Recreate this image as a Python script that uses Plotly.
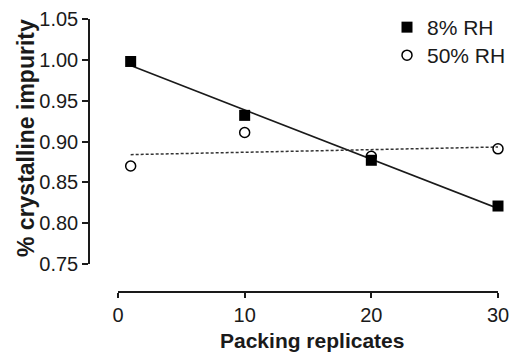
import numpy as np
import plotly.graph_objects as go

# Data
packing = [1, 10, 20, 30]
rh8 = [0.998, 0.932, 0.877, 0.821]
rh50 = [0.870, 0.911, 0.882, 0.891]
x_ticks = [0, 10, 20, 30]
y_ticks = [0.75, 0.80, 0.85, 0.90, 0.95, 1.00, 1.05]

W, H = 514, 354
FONT = "Liberation Sans, Arial, Helvetica, sans-serif"
INK = "#1a1a1a"

# linear regression fit lines (GraphPad style)
xs = np.array(packing, dtype=float)
fit_x = [xs.min(), xs.max()]
fit8 = list(np.polyval(np.polyfit(xs, rh8, 1), fit_x))
fit50 = list(np.polyval(np.polyfit(xs, rh50, 1), fit_x))

def fx(px):
    return px / W

def fy(py):
    return (H - py) / H

fig = go.Figure()
fig.add_trace(go.Scatter(x=fit_x, y=fit8, mode="lines", showlegend=False,
                         line=dict(color=INK, width=1.6), hoverinfo="skip"))
fig.add_trace(go.Scatter(x=fit_x, y=fit50, mode="lines", showlegend=False,
                         line=dict(color="#333", width=1.5, dash="3px,2px"), hoverinfo="skip"))
fig.add_trace(go.Scatter(x=packing, y=rh8, mode="markers", name="8% RH",
                         cliponaxis=False, legend="legend",
                         marker=dict(symbol="square", size=11, color="black",
                                     line=dict(color="black", width=0))))
fig.add_trace(go.Scatter(x=packing, y=rh50, mode="markers", name="50% RH",
                         cliponaxis=False, legend="legend2",
                         marker=dict(symbol="circle-open", size=10, color="black",
                                     line=dict(color="black", width=1.5))))

axis_common = dict(ticks="outside", tickwidth=1.5, tickcolor=INK, showline=True,
                   linecolor=INK, linewidth=1.5, showgrid=False, zeroline=False,
                   automargin=False, tickfont=dict(size=20, color=INK, family=FONT))

legend_common = dict(xanchor="left", yanchor="top", bgcolor="rgba(0,0,0,0)",
                     font=dict(size=21, color=INK, family=FONT), itemwidth=30)

fig.update_layout(
    width=W, height=H,
    margin=dict(l=0, r=0, t=0, b=0, autoexpand=False),
    paper_bgcolor="white", plot_bgcolor="white",
    font=dict(family=FONT, size=18, color=INK),
    showlegend=True,
    legend=dict(x=fx(387), y=fy(7), **legend_common),
    legend2=dict(x=fx(387), y=fy(35), **legend_common),
    xaxis=dict(range=[0, 30], domain=[fx(118), fx(498)], anchor="free", position=fy(292),
               tickvals=x_ticks, ticklen=5, **axis_common),
    yaxis=dict(range=[0.75, 1.05], domain=[fy(264), fy(19)], anchor="free", position=fx(89),
               tickvals=y_ticks, tickformat=".2f", ticklen=6, **axis_common),
    annotations=[
        dict(text="<b>% crystalline impurity</b>", textangle=-90,
             xref="paper", yref="paper", x=fx(26), y=fy(138),
             xanchor="center", yanchor="middle", showarrow=False,
             font=dict(size=23, color=INK, family=FONT)),
        dict(text="<b>Packing replicates</b>",
             xref="paper", yref="paper", x=fx(312), y=fy(340),
             xanchor="center", yanchor="middle", showarrow=False,
             font=dict(size=21, color=INK, family=FONT)),
    ],
)

fig.write_html("out.html",
               config={"displayModeBar": False},
               post_script="document.body.style.margin='0';document.body.style.overflow='hidden';")
